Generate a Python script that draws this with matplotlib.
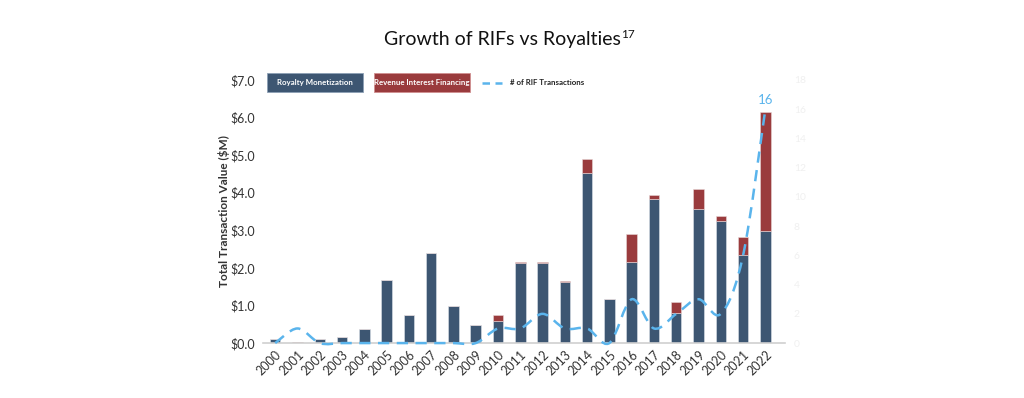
import numpy as np
import matplotlib.pyplot as plt
from matplotlib.path import Path
from matplotlib.patches import PathPatch, Rectangle
from matplotlib.lines import Line2D

plt.rcParams['font.family'] = ['Lato', 'DejaVu Sans']

years = list(range(2000, 2023))
royalty = [0.12, 0.01, 0.10, 0.15, 0.38, 1.69, 0.76, 2.39, 0.98, 0.48, 0.58,
           2.12, 2.12, 1.62, 4.52, 1.16, 2.17, 3.84, 0.80, 3.58, 3.26, 2.35, 2.97]
rif = [0.0, 0.02, 0.0, 0.0, 0.0, 0.0, 0.0, 0.0, 0.0, 0.0, 0.18,
       0.04, 0.04, 0.03, 0.38, 0.0, 0.74, 0.09, 0.30, 0.53, 0.12, 0.46, 3.17]
rif_count = [0, 1, 0, 0, 0, 0, 0, 0, 0, 0, 1, 1, 2, 1, 1, 0, 3, 1, 2, 3, 2, 6, 16]

c_blue = '#3d5672'
c_red = '#9a3b3d'
c_line = '#5ab4ec'

fig = plt.figure(figsize=(10.24, 3.98), dpi=100)
ax = fig.add_axes([0.257, 0.138, 0.510, 0.661])
x = np.arange(len(years))

ax.bar(x, royalty, width=0.47, color=c_blue, edgecolor='#dde3ea', linewidth=0.4, zorder=2)
ax.bar(x, rif, width=0.47, bottom=royalty, color=c_red, edgecolor='#e8d8d8', linewidth=0.4, zorder=2)

ax.set_xlim(-0.54, len(years) - 1 + 0.9)
ax.set_ylim(0, 7)
ax.set_yticks(np.arange(0, 8, 1))
ax.set_yticklabels(['$%.1f' % v for v in range(8)], fontsize=9, color='#333333')
ax.set_xticks(x)
ax.set_xticklabels([str(y) for y in years], rotation=45, ha='right', rotation_mode='anchor',
                   fontsize=9, color='#333333')
ax.tick_params(length=0, pad=6)
ax.tick_params(axis='x', pad=4)
for s in ['top', 'right', 'left']:
    ax.spines[s].set_visible(False)
ax.spines['bottom'].set_color('#d0d0d0')
ax.spines['bottom'].set_linewidth(1.2)
ax.set_ylabel('Total Transaction Value ($M)', fontsize=8.5, fontweight='bold', color='#333333', labelpad=0)

# secondary axis for transaction count
ax2 = ax.twinx()
ax2.set_ylim(0, 18)
ax2.set_yticks(np.arange(0, 19, 2))
ax2.set_yticklabels([str(v) for v in range(0, 19, 2)], fontsize=7.5, color='#f0f0f0')
ax2.tick_params(length=0, pad=6)
for s in ax2.spines.values():
    s.set_visible(False)

# smoothed line (bezier through points, like Excel smoothing)
pts = np.column_stack([x, rif_count]).astype(float)
verts = [pts[0]]
codes = [Path.MOVETO]
n = len(pts)
for i in range(n - 1):
    p0 = pts[i - 1] if i > 0 else pts[i]
    p1 = pts[i]
    p2 = pts[i + 1]
    p3 = pts[i + 2] if i + 2 < n else pts[i + 1]
    verts += [p1 + (p2 - p0) / 6, p2 - (p3 - p1) / 6, p2]
    codes += [Path.CURVE4] * 3
patch = PathPatch(Path(verts, codes), facecolor='none', edgecolor=c_line, lw=1.8,
                  linestyle=(0, (4.5, 3)), zorder=3, clip_on=False)
ax2.add_patch(patch)
ax2.text(x[-1], rif_count[-1] + 0.25, str(rif_count[-1]), ha='center', va='bottom',
         color=c_line, fontsize=9.5)

# legend
fig.patches.append(Rectangle((267 / 1024, 1 - 92 / 398), 96 / 1024, 19 / 398,
                             transform=fig.transFigure, facecolor=c_blue, edgecolor='#8da0b5', lw=0.6))
fig.text(315 / 1024, 1 - 82.5 / 398, 'Royalty Monetization', ha='center', va='center',
         color='white', fontsize=5.7, fontweight='bold')
fig.patches.append(Rectangle((374 / 1024, 1 - 92 / 398), 96 / 1024, 19 / 398,
                             transform=fig.transFigure, facecolor=c_red, edgecolor='#d09090', lw=0.6))
fig.text(422 / 1024, 1 - 82.5 / 398, 'Revenue Interest Financing', ha='center', va='center',
         color='white', fontsize=5.7, fontweight='bold')
fig.lines.append(Line2D([482 / 1024, 502 / 1024], [1 - 82.5 / 398] * 2, transform=fig.transFigure,
                        color=c_line, lw=1.8, linestyle=(0, (3, 2.2))))
fig.text(510 / 1024, 1 - 82.5 / 398, '# of RIF Transactions', ha='left', va='center',
         color='#222222', fontsize=5.7, fontweight='bold')

fig.text(621 / 1024, 1 - 40 / 398, 'Growth of RIFs vs Royalties', ha='right', va='center',
         fontsize=14, color='#111111')
fig.text(621 / 1024, 1 - 35 / 398, '17', ha='left', va='center', fontsize=8.5, color='#111111')

fig.savefig('out.png', dpi=100)
